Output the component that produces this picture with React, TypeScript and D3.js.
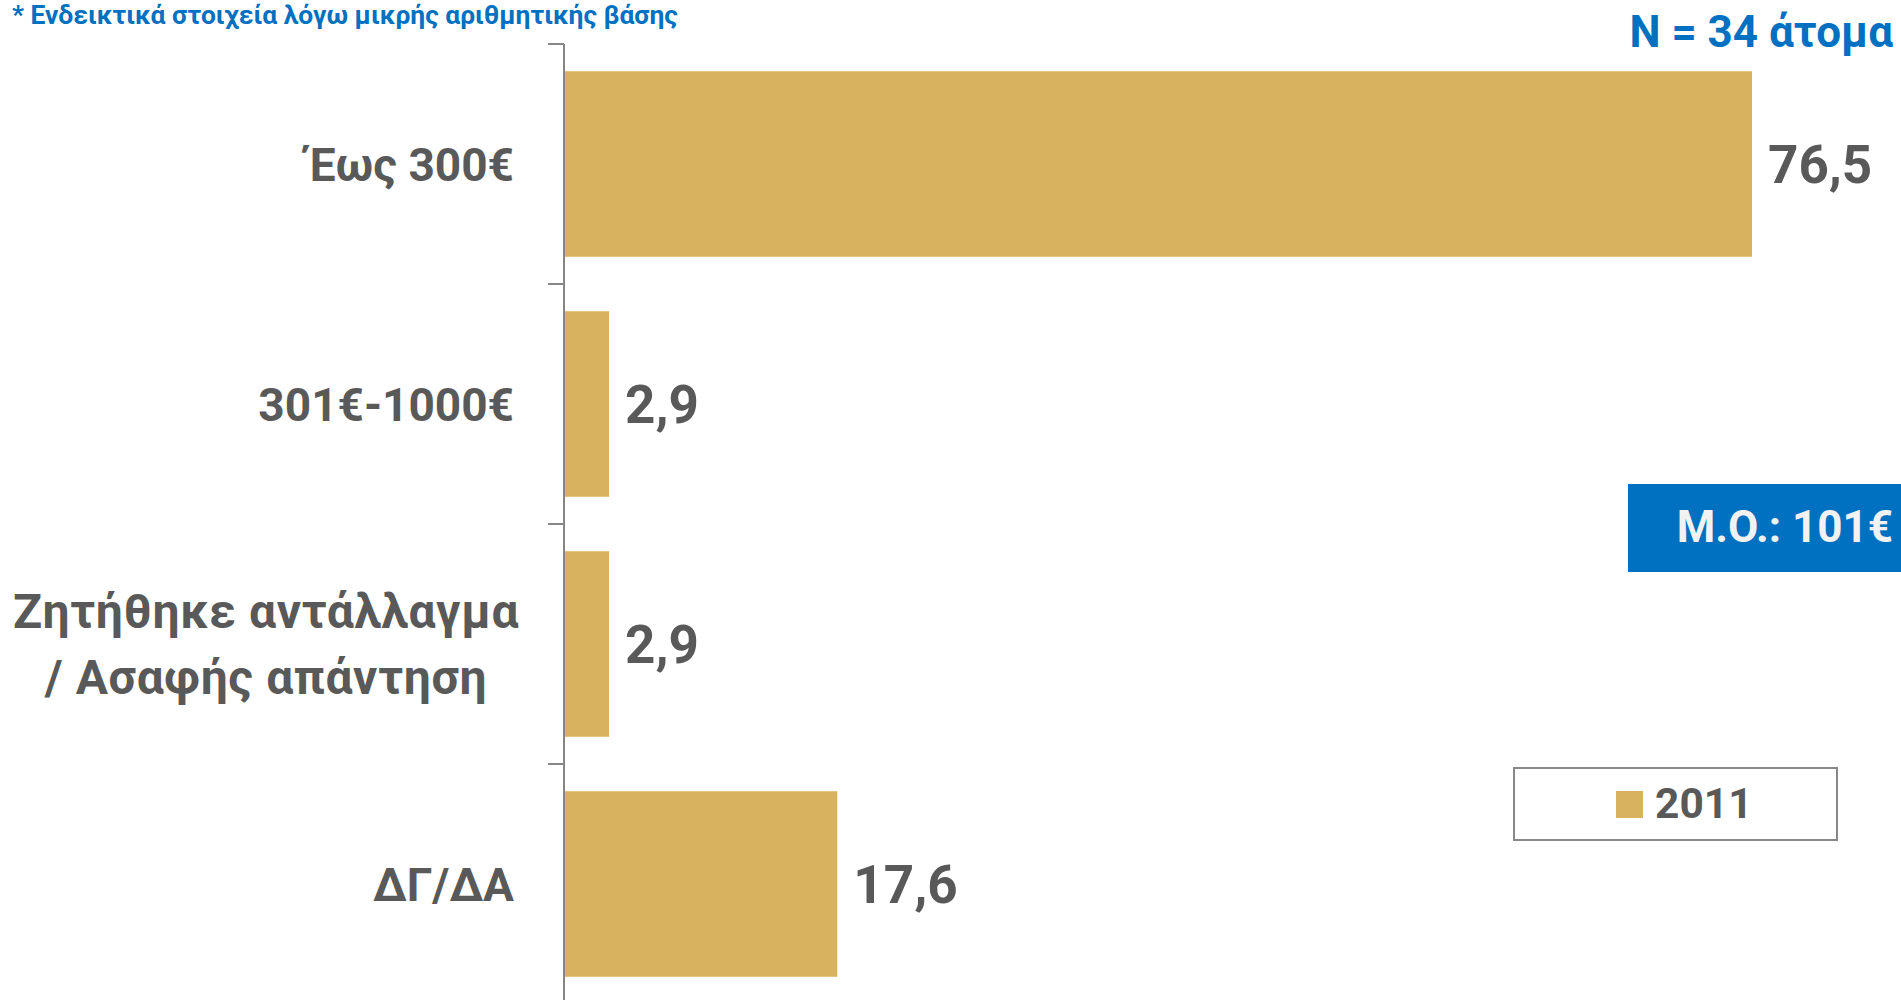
import React from "react";
import * as d3 from "d3";

const categories: string[][] = [
  ["Έως 300€"],
  ["301€-1000€"],
  ["Ζητήθηκε αντάλλαγμα", "/ Ασαφής απάντηση"],
  ["ΔΓ/ΔΑ"],
];
const values2011: number[] = [76.5, 2.9, 2.9, 17.6];
const seriesName = "2011";
const noteText = "* Ενδεικτικά στοιχεία λόγω μικρής αριθμητικής βάσης";
const sampleText = "N = 34 άτομα";
const meanText = "M.O.: 101€";

const W = 1901;
const H = 1000;
const BAR = "#D8B25F";
const GREY = "#595959";
const BLUE = "#0070C0";
const FONT = "Roboto, 'Open Sans', sans-serif";

export default function App() {
  const keys = categories.map((_, i) => String(i));
  const y = d3.scaleBand<string>().domain(keys).range([44, 1004]).paddingInner(0.227).paddingOuter(0.1135);
  const x = d3.scaleLinear().domain([0, 76.5]).range([564, 1752]);
  const fmt = (v: number) => d3.format(".1f")(v).replace(".", ",");
  const ticks = d3.range(keys.length + 1).map((i) => 44 + i * y.step());

  return (
    <svg width={W} height={H} style={{ position: "absolute", left: 0, top: 0, background: "#fff" }}>
      <text x={12} y={24} fill={BLUE} fontFamily={FONT} fontWeight={700} fontSize={26.4}>{noteText}</text>
      <text x={1893} y={47} fill={BLUE} fontFamily={FONT} fontWeight={700} fontSize={44} textAnchor="end">{sampleText}</text>

      {keys.map((k, i) => (
        <rect key={k} x={x(0)} y={y(k)} width={x(values2011[i]) - x(0)} height={y.bandwidth()} fill={BAR} />
      ))}
      {keys.map((k, i) => (
        <text key={"v" + k} x={x(values2011[i]) + 16} y={(y(k) as number) + y.bandwidth() / 2} dy="0.36em"
          fill={GREY} fontFamily={FONT} fontWeight={700} fontSize={53}>{fmt(values2011[i])}</text>
      ))}

      <line x1={x(0)} x2={x(0)} y1={44} y2={1004} stroke="#868686" strokeWidth={2} />
      {ticks.map((t, i) => (
        <line key={"t" + i} x1={x(0) - 16} x2={x(0)} y1={t} y2={t} stroke="#868686" strokeWidth={2} />
      ))}

      {keys.map((k, i) => {
        const lines = categories[i];
        const multi = lines.length > 1;
        const cy = (y(k) as number) + y.bandwidth() / 2;
        const lh = 66;
        const start = cy - ((lines.length - 1) * lh) / 2;
        return (
          <text key={"c" + k} fill={GREY} fontFamily={FONT} fontWeight={700}
            fontSize={multi ? 48 : 46} letterSpacing={multi ? 0.6 : 0}>
            {lines.map((ln, j) => (
              <tspan key={j} x={multi ? 266 : 514} textAnchor={multi ? "middle" : "end"} y={start + j * lh} dy="0.36em">{ln}</tspan>
            ))}
          </text>
        );
      })}

      <rect x={1628} y={484} width={W - 1628} height={88} fill={BLUE} />
      <text x={1893} y={542} fill="#F2F2F2" fontFamily={FONT} fontWeight={700} fontSize={44} textAnchor="end">{meanText}</text>

      <rect x={1514} y={768} width={323} height={72} fill="#fff" stroke="#888888" strokeWidth={2} />
      <rect x={1616} y={791} width={27} height={27} fill={BAR} />
      <text x={1655} y={818} fill={GREY} fontFamily={FONT} fontWeight={700} fontSize={42.5}>{seriesName}</text>
    </svg>
  );
}
